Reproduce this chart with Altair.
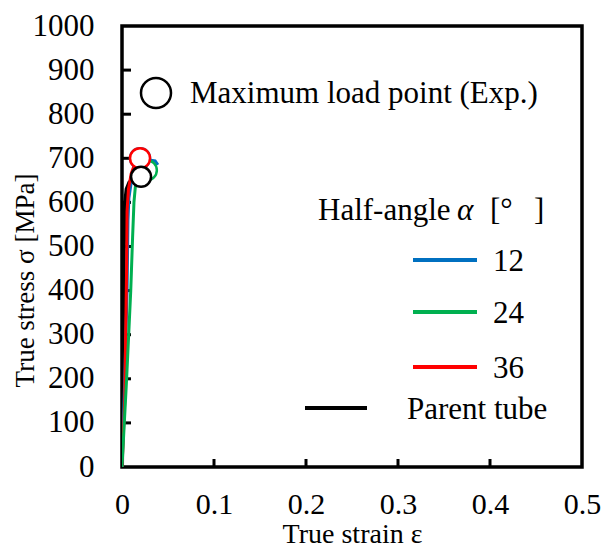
import altair as alt
import pandas as pd

# ---- data ----
parent_strain = [0, 0.001, 0.002, 0.003, 0.005, 0.008, 0.012, 0.016, 0.020]
parent_stress = [0, 300, 500, 590, 630, 645, 652, 656, 658]

a12_strain = [0, 0.003, 0.0055, 0.0065, 0.0075, 0.010, 0.014, 0.020, 0.030, 0.036, 0.039]
a12_stress = [0, 200, 400, 560, 610, 645, 668, 685, 696, 694, 685]

a24_strain = [0, 0.005, 0.0095, 0.0115, 0.013, 0.0145, 0.017, 0.021, 0.026, 0.031]
a24_stress = [0, 200, 400, 520, 600, 635, 655, 667, 674, 676]

a36_strain = [0, 0.003, 0.004, 0.005, 0.0055, 0.007, 0.010, 0.014, 0.018, 0.021]
a36_stress = [0, 150, 300, 450, 580, 630, 665, 688, 698, 701]

max_series = ["24", "12", "36", "Parent tube"]
max_strain = [0.027, 0.0196, 0.0196, 0.0207]
max_stress = [673, 700, 700, 658]

series_names = ["12", "24", "36", "Parent tube"]
series_colors = ["#0070C0", "#00B050", "#FF0000", "#000000"]

x_ticks = [0, 0.1, 0.2, 0.3, 0.4, 0.5]
y_ticks = [0, 100, 200, 300, 400, 500, 600, 700, 800, 900, 1000]

W, H = 460, 441
FONT = "Liberation Serif"
FS = 31

xs = alt.Scale(domain=[0, 0.5], nice=False, zero=True)
ys = alt.Scale(domain=[0, 1000], nice=False)

xax = alt.Axis(values=x_ticks, ticks=False, domain=False, grid=False,
               labelExpr="datum.value == 0 ? '0' : format(datum.value, '.1f')",
               labelFont=FONT, labelFontSize=30, labelColor="black", labelPadding=22,
               labelFlush=False, labelOverlap=False,
               title="True strain ε", titleFont=FONT, titleFontSize=28, titleFontWeight="normal",
               titleColor="black", titleY=75, titleBaseline="alphabetic")
yax = alt.Axis(values=y_ticks, ticks=False, domain=False, grid=False, format="d",
               labelFont=FONT, labelFontSize=FS, labelColor="black", labelPadding=28,
               labelFlush=False, labelOverlap=False,
               title="True stress σ [MPa]", titleFont=FONT, titleFontSize=27, titleFontWeight="normal",
               titleColor="black", titleX=-97, titleY=254, titleAngle=-90,
               titleAlign="center", titleBaseline="middle")


def curve(strain, stress, color, width):
    df = pd.DataFrame({"strain": strain, "stress": stress, "i": range(len(strain))})
    return alt.Chart(df).mark_line(color=color, strokeWidth=width, clip=True).encode(
        x=alt.X("strain:Q", scale=xs, axis=xax),
        y=alt.Y("stress:Q", scale=ys, axis=yax),
        order="i:Q",
    )


# axes base with inward ticks
yt = alt.Chart(pd.DataFrame({"v": y_ticks[1:-1]})).mark_rule(color="black", strokeWidth=3).encode(
    y=alt.Y("v:Q", scale=ys, axis=yax), x=alt.value(0), x2=alt.value(9))
xt = alt.Chart(pd.DataFrame({"v": x_ticks[1:-1]})).mark_rule(color="black", strokeWidth=3).encode(
    x=alt.X("v:Q", scale=xs, axis=xax), y=alt.value(H), y2=alt.value(H - 8))

c_black = curve(parent_strain, parent_stress, "#000000", 4)
c_green = curve(a24_strain, a24_stress, "#00B050", 3)
c_blue = curve(a12_strain, a12_stress, "#0070C0", 3)
c_red = curve(a36_strain, a36_stress, "#FF0000", 3)

color_scale = alt.Scale(domain=series_names, range=series_colors)
mdf = pd.DataFrame({"series": max_series, "strain": max_strain, "stress": max_stress,
                    "i": range(len(max_series))})
pts = alt.Chart(mdf).mark_point(shape="circle", fill="white", fillOpacity=1, opacity=1,
                                size=400, strokeWidth=2.5).encode(
    x=alt.X("strain:Q", scale=xs, axis=xax),
    y=alt.Y("stress:Q", scale=ys, axis=yax),
    stroke=alt.Color("series:N", scale=color_scale, legend=None),
    order="i:Q",
)

# ---- legend (hand-built, pixel positioned) ----
one = pd.DataFrame({"a": [0]})
leg_circle = alt.Chart(one).mark_point(shape="circle", filled=False, color="black",
                                       size=900, strokeWidth=2.5, opacity=1).encode(
    x=alt.value(34), y=alt.value(67))


def txt(s, x, y, style="normal", size=FS):
    return alt.Chart(one).mark_text(text=s, font=FONT, fontSize=size, fontStyle=style,
                                    align="left", baseline="middle", color="black").encode(
        x=alt.value(x), y=alt.value(y))


def seg(x1, x2, y, color):
    return alt.Chart(one).mark_rule(color=color, strokeWidth=4).encode(
        x=alt.value(x1), x2=alt.value(x2), y=alt.value(y))


leg_items = [
    leg_circle,
    txt("Maximum load point (Exp.)", 68, 68),
    txt("Half-angle", 196, 185),
    txt("α", 335, 185, style="italic"),
    txt("[°", 368, 185),
    txt("]", 412, 185),
]
leg_rows = [(series_names[0], series_colors[0], 234), (series_names[1], series_colors[1], 286),
            (series_names[2], series_colors[2], 341)]
for name, col, y in leg_rows:
    leg_items.append(seg(291, 355, y, col))
    leg_items.append(txt(name, 371, y + 2))
leg_items.append(seg(183, 245, 382, series_colors[3]))
leg_items.append(txt(series_names[3], 285, 384))

chart = alt.layer(
    yt, xt, c_black, c_blue, c_red, c_green, pts, *leg_items
).properties(
    width=W, height=H,
    autosize=alt.AutoSizeParams(type="none"),
    padding={"left": 122, "top": 26, "right": 20, "bottom": 82},
    background="white",
).configure_view(stroke="black", strokeWidth=3.5)

chart.save("out.html", embed_options={"renderer": "svg", "actions": False})
